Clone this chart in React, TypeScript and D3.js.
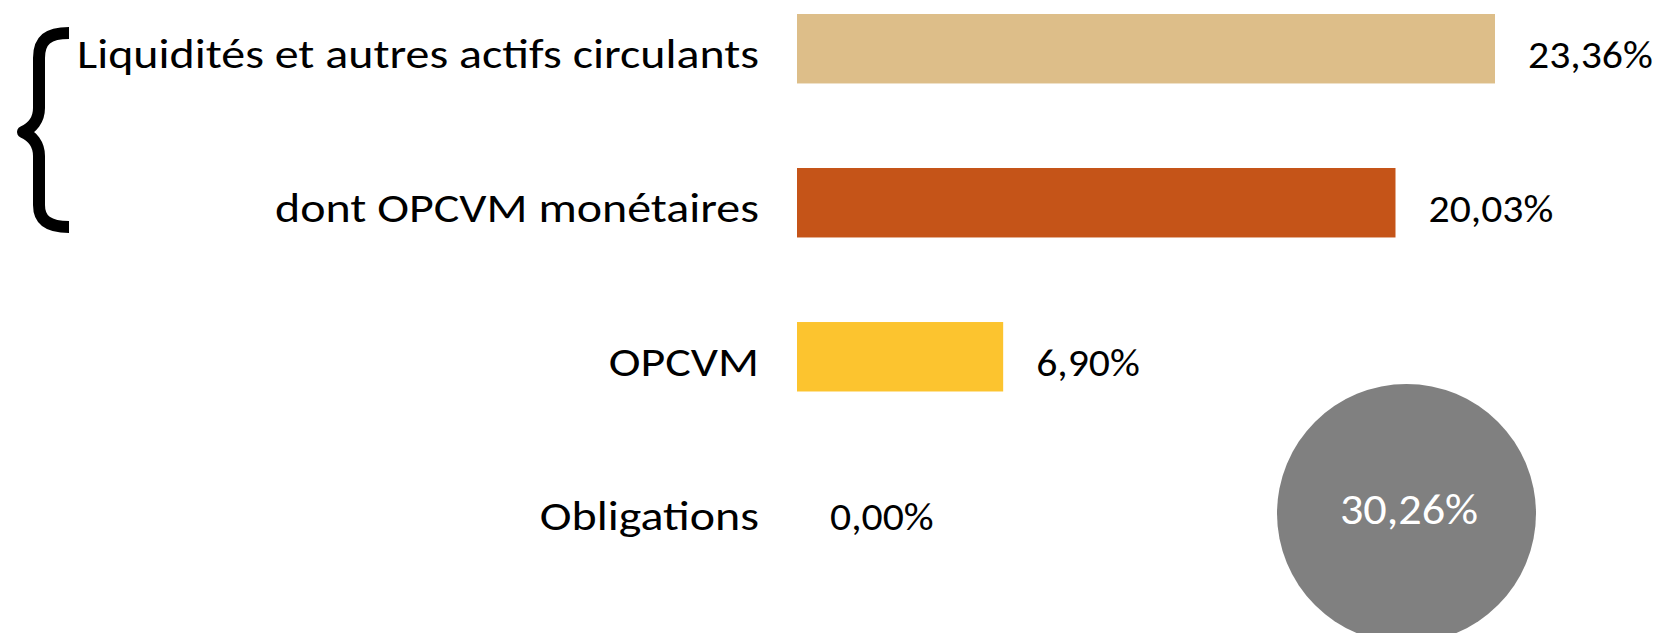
import React from "react";
import * as d3 from "d3";

const categories = [
  "Liquidités et autres actifs circulants",
  "dont OPCVM monétaires",
  "OPCVM",
  "Obligations",
];
const values = [23.36, 20.03, 6.9, 0.0];
const barColors = ["#DDBE89", "#C55418", "#FCC42F", "#A5A5A5"];
const totalValue = 30.26;

const W = 1657;
const H = 633;
const FONT = "Carlito, Calibri, Lato, sans-serif";
const CAT_K = 1.142;
const VAL_K = 1.07;
const TOT_K = 1.075;

const fmt = (v: number) => d3.format(".2f")(v).replace(".", ",") + "%";

export default function App() {
  const x = d3.scaleLinear().domain([0, 25]).range([797, 797 + 25 * 29.88]);
  const y = d3
    .scaleBand<string>()
    .domain(categories)
    .range([14, 545.5])
    .paddingInner(0.549)
    .paddingOuter(0);
  const bw = y.bandwidth();

  return (
    <svg
      width={W}
      height={H}
      style={{ position: "absolute", left: 0, top: 0, background: "#fff" }}
    >
      <path
        d="M 69 33 C 48 33, 39 40, 39 58 L 39 108 C 39 120, 32 128, 23 132 C 32 136, 39 144, 39 156 L 39 205 C 39 220, 48 227, 69 227"
        fill="none"
        stroke="#000"
        strokeWidth={12}
        strokeLinejoin="round"
      />
      {categories.map((c, i) => {
        const yc = (y(c) as number) + bw / 2;
        return (
          <g key={c}>
            {values[i] > 0 && (
              <rect
                x={x(0)}
                y={y(c)}
                width={x(values[i]) - x(0)}
                height={bw}
                fill={barColors[i]}
              />
            )}
            <text
              transform={`translate(759,${yc + 19.5}) scale(${CAT_K},1)`}
              textAnchor="end"
              fontFamily={FONT}
              fontSize={42}
              fill="#000"
            >
              {c}
            </text>
            <text
              transform={`translate(${x(values[i]) + 33},${yc + 19.5}) scale(${VAL_K},1)`}
              fontFamily={FONT}
              fontSize={39}
              fill="#000"
            >
              {fmt(values[i])}
            </text>
          </g>
        );
      })}
      <circle cx={1406.5} cy={513.5} r={129.5} fill="#808080" />
      <text
        transform={`translate(1409,524) scale(${TOT_K},1)`}
        textAnchor="middle"
        fontFamily={FONT}
        fontWeight={300}
        fontSize={43}
        fill="#fff"
      >
        {fmt(totalValue)}
      </text>
    </svg>
  );
}
